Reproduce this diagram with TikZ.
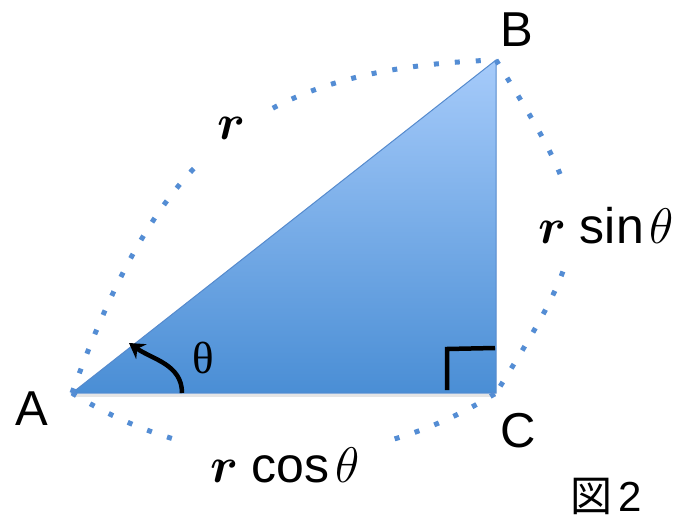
\RequirePackage{fix-cm}
\documentclass[tikz,border=0pt]{standalone}
\usepackage{fontspec}
\setmainfont{Liberation Sans}
\newfontfamily\tnr{Liberation Serif}
\newfontfamily\cjkfont{Noto Sans CJK JP}
\usetikzlibrary{arrows.meta}
\definecolor{dotblue}{RGB}{84,141,212}
\definecolor{topblue}{RGB}{166,203,250}
\definecolor{botblue}{RGB}{74,142,213}
\definecolor{edgeblue}{RGB}{85,138,205}
\newcommand{\boldr}{{\boldmath$r$}}
\begin{document}
\begin{tikzpicture}[x=1pt,y=1pt,
  dotarc/.style={draw=dotblue, line width=5pt, dash pattern=on 5pt off 16pt},
  vlabel/.style={font=\fontsize{49}{50}\selectfont, anchor=base, inner sep=0pt},
  mlabel/.style={font=\fontsize{50}{56}\selectfont, anchor=base, fill=white},
  blackline/.style={line width=4.5pt, black}
]
\useasboundingbox (0,0) rectangle (684,520);
\coordinate (A) at (72,127);
\coordinate (B) at (496,460);
\coordinate (C) at (496,127);
% shadow
\draw[black, opacity=0.10, line width=3pt] ([yshift=-2pt]A) -- ([yshift=-2pt]C);
% triangle
\shadedraw[top color=topblue, bottom color=botblue, draw=edgeblue, line width=1pt] (A) -- (B) -- (C) -- cycle;
% dotted arcs
\draw[dotarc] (A) to[out=70,in=182,out distance=250pt,in distance=250pt] (B);
\draw[dotarc] (B) to[out=-58,in=58,out distance=190pt,in distance=190pt] (C);
\draw[dotarc] (A) to[out=-32,in=212,out distance=156pt,in distance=156pt] (C);
% labels
\node[vlabel] (la) at (32,95) {A};
\node[vlabel] (lb) at (517,473) {B};
\node[vlabel] (lc) at (518,73) {C};
\node[mlabel, minimum width=62pt, minimum height=62pt, inner sep=0pt] (lr) at (232,380) {\boldr};
\node[mlabel, inner xsep=8pt, inner ysep=22pt] (lrs) at (606,277) {\boldr{} sin\kern6pt$\theta$};
\node[mlabel, inner xsep=26pt, inner ysep=12pt] (lrc) at (285,38) {\boldr{} cos\kern6pt$\theta$};
\node[font=\tnr\fontsize{45}{50}\selectfont, anchor=base, inner sep=0pt] (th) at (203,147) {θ};
\node[font=\fontsize{42}{48}\selectfont, anchor=base, inner sep=0pt] (fig) at (606,9) {{\cjkfont 図}\kern6pt2};
% angle arrow
\coordinate (a0) at (182,127);
\coordinate (a1) at (129,177);
\draw[blackline, -{Stealth[length=15pt,width=18pt]}] (a0) to[out=90,in=-35] (a1);
% right angle mark
\coordinate (r1) at (447,130);
\coordinate (r2) at (447,171);
\coordinate (r3) at (495,172);
\draw[blackline] (r1) -- (r2) -- (r3);
\end{tikzpicture}
\end{document}
